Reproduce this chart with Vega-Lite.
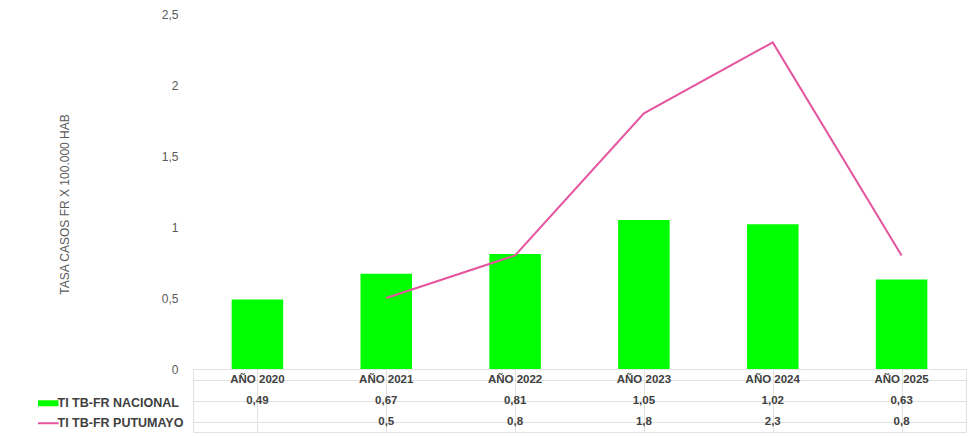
{
  "$schema": "https://vega.github.io/schema/vega-lite/v6.json",
  "background": "white",
  "padding": {"left": 42, "top": 8, "right": 3, "bottom": 3},
  "spacing": 0,
  "bounds": "flush",
  "config": {
    "font": "Liberation Sans",
    "view": {"stroke": null},
    "locale": {"number": {"decimal": ",", "thousands": ".", "grouping": [3], "currency": ["", ""]}}
  },
  "datasets": {
    "d": [
      {"anio": "AÑO 2020", "serie": "TI TB-FR NACIONAL", "valor": 0.49},
      {"anio": "AÑO 2021", "serie": "TI TB-FR NACIONAL", "valor": 0.67},
      {"anio": "AÑO 2022", "serie": "TI TB-FR NACIONAL", "valor": 0.81},
      {"anio": "AÑO 2023", "serie": "TI TB-FR NACIONAL", "valor": 1.05},
      {"anio": "AÑO 2024", "serie": "TI TB-FR NACIONAL", "valor": 1.02},
      {"anio": "AÑO 2025", "serie": "TI TB-FR NACIONAL", "valor": 0.63},
      {"anio": "AÑO 2021", "serie": "TI TB-FR PUTUMAYO", "valor": 0.5},
      {"anio": "AÑO 2022", "serie": "TI TB-FR PUTUMAYO", "valor": 0.8},
      {"anio": "AÑO 2023", "serie": "TI TB-FR PUTUMAYO", "valor": 1.8},
      {"anio": "AÑO 2024", "serie": "TI TB-FR PUTUMAYO", "valor": 2.3},
      {"anio": "AÑO 2025", "serie": "TI TB-FR PUTUMAYO", "valor": 0.8}
    ]
  },
  "resolve": {"scale": {"color": "independent", "x": "independent", "y": "independent"}, "legend": {"color": "independent"}},
  "vconcat": [
    {
      "width": 773,
      "height": 355,
      "data": {"name": "d"},
      "encoding": {
        "x": {"field": "anio", "type": "nominal", "scale": {"paddingInner": 0.6, "paddingOuter": 0.3}, "axis": null},
        "y": {
          "field": "valor", "type": "quantitative",
          "scale": {"domain": [0, 2.5]},
          "axis": {
            "values": [0, 0.5, 1, 1.5, 2, 2.5], "format": "~g", "grid": false, "domain": false, "ticks": false,
            "labelPadding": 15, "labelFontSize": 12, "labelColor": "#595959",
            "title": "TASA CASOS FR X 100.000 HAB", "titleFontSize": 12, "titleFontWeight": "normal",
            "titleColor": "#595959", "titlePadding": 90, "titleY": 190
          }
        },
        "color": {
          "field": "serie", "type": "nominal",
          "scale": {"domain": ["TI TB-FR NACIONAL", "TI TB-FR PUTUMAYO"], "range": ["#00ff00", "#e4549f"]},
          "legend": {
            "orient": "none", "legendX": -151, "legendY": 383, "title": null, "padding": 0,
            "labelFontWeight": "bold", "labelFontSize": 12.5, "labelColor": "#404040", "labelOffset": 3,
            "symbolType": "stroke", "symbolSize": 420, "rowPadding": 1,
            "encode": {"symbols": {"update": {
              "strokeWidth": {"signal": "datum.value === 'TI TB-FR NACIONAL' ? 6 : 2"},
              "stroke": {"signal": "datum.value === 'TI TB-FR NACIONAL' ? '#00ff00' : '#e4549f'"},
              "fill": {"value": "transparent"},
              "opacity": {"value": 1}
            }}}
          }
        }
      },
      "layer": [
        {"transform": [{"filter": "datum.serie === 'TI TB-FR NACIONAL'"}], "mark": {"type": "bar"}},
        {"transform": [{"filter": "datum.serie === 'TI TB-FR PUTUMAYO'"}], "mark": {"type": "line", "strokeWidth": 2}}
      ]
    },
    {
      "width": 773,
      "height": 63,
      "view": {"stroke": "#e2e2e2"},
      "data": {"name": "d"},
      "encoding": {
        "x": {"field": "anio", "type": "nominal", "scale": {"paddingInner": 0, "paddingOuter": 0},
          "axis": {"labels": false, "ticks": false, "domain": false, "title": null, "grid": true, "bandPosition": 0, "gridColor": "#e2e2e2"}}
      },
      "layer": [
        {
          "transform": [{"filter": "datum.serie === 'TI TB-FR NACIONAL'"}],
          "mark": {"type": "text", "fontWeight": "bold", "fontSize": 11.5, "color": "#404040"},
          "encoding": {
            "y": {"datum": "h", "type": "nominal",
              "scale": {"domain": ["h", "TI TB-FR NACIONAL", "TI TB-FR PUTUMAYO"], "paddingInner": 0, "paddingOuter": 0},
              "axis": {"labels": false, "ticks": false, "domain": false, "title": null, "grid": true, "bandPosition": 0, "gridColor": "#e2e2e2"}},
            "text": {"field": "anio"}
          }
        },
        {
          "mark": {"type": "text", "fontWeight": "bold", "fontSize": 11.5, "color": "#404040"},
          "encoding": {
            "y": {"field": "serie", "type": "nominal"},
            "text": {"field": "valor", "type": "quantitative", "format": "~g"}
          }
        }
      ]
    }
  ]
}
